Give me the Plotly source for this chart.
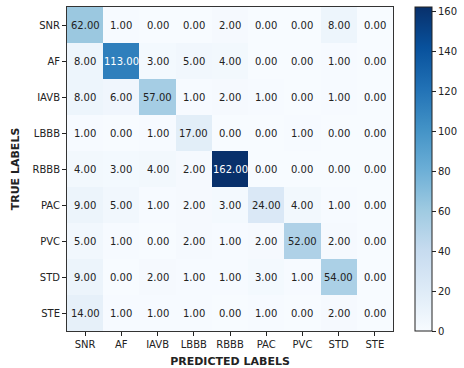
import plotly.graph_objects as go

labels = ["SNR", "AF", "IAVB", "LBBB", "RBBB", "PAC", "PVC", "STD", "STE"]
matrix = [
    [62, 1, 0, 0, 2, 0, 0, 8, 0],
    [8, 113, 3, 5, 4, 0, 0, 1, 0],
    [8, 6, 57, 1, 2, 1, 0, 1, 0],
    [1, 0, 1, 17, 0, 0, 1, 0, 0],
    [4, 3, 4, 2, 162, 0, 0, 0, 0],
    [9, 5, 1, 2, 3, 24, 4, 1, 0],
    [5, 1, 0, 2, 1, 2, 52, 2, 0],
    [9, 0, 2, 1, 1, 3, 1, 54, 0],
    [14, 1, 1, 1, 0, 1, 0, 2, 0],
]
cbar_ticks = [0, 20, 40, 60, 80, 100, 120, 140, 160]

blues = ["#f7fbff", "#deebf7", "#c6dbef", "#9ecae1", "#6baed6",
         "#4292c6", "#2171b5", "#08519c", "#08306b"]
cscale = [[i / (len(blues) - 1), c] for i, c in enumerate(blues)]

zmax = max(max(r) for r in matrix)
font = "DejaVu Sans"

fig = go.Figure(go.Heatmap(
    z=matrix, x=labels, y=labels,
    colorscale=cscale, zmin=0, zmax=zmax,
    xgap=0, ygap=0, hoverinfo="skip",
    colorbar=dict(
        x=1.0675, xanchor="left", xpad=0, y=0.5, yanchor="middle",
        len=1, lenmode="fraction", ypad=0, thickness=17,
        outlinewidth=1, outlinecolor="#222",
        tickvals=cbar_ticks, ticks="outside", ticklen=4, tickcolor="#222",
        tickfont=dict(family=font, size=10, color="#222"),
    ),
))

annotations = []
thresh = zmax / 2
for i, row in enumerate(matrix):
    for j, v in enumerate(row):
        annotations.append(dict(
            x=labels[j], y=labels[i], text=f"{v:.2f}", showarrow=False,
            font=dict(family=font, size=10, color="white" if v > thresh else "#222"),
        ))

fig.update_layout(
    width=464, height=368,
    margin=dict(l=67, r=71, t=7, b=37, autoexpand=False),
    paper_bgcolor="white", plot_bgcolor="white",
    annotations=annotations,
    xaxis=dict(
        title=dict(text="<b>PREDICTED LABELS</b>", font=dict(family=font, size=11, color="#222"), standoff=9),
        ticks="outside", ticklen=4, tickcolor="#222",
        tickfont=dict(family=font, size=10, color="#222"),
        showline=True, linecolor="#333", linewidth=1, mirror=True,
        showgrid=False, zeroline=False, automargin=False,
    ),
    yaxis=dict(
        title=dict(text="<b>TRUE LABELS</b>", font=dict(family=font, size=11, color="#222"), standoff=10),
        autorange="reversed",
        ticks="outside", ticklen=4, tickcolor="#222",
        tickfont=dict(family=font, size=10, color="#222"),
        showline=True, linecolor="#333", linewidth=1, mirror=True,
        showgrid=False, zeroline=False, automargin=False,
    ),
)

fig.write_html(
    "out.html",
    config={"displayModeBar": False},
    post_script="document.body.style.margin='0';document.body.style.overflow='hidden';",
)
